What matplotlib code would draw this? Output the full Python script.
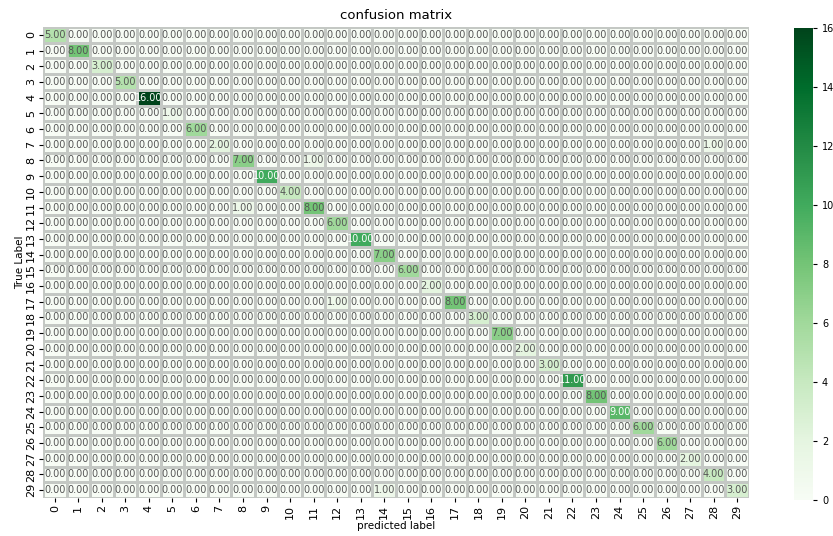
import numpy as np
import matplotlib
matplotlib.use("Agg")
import matplotlib.pyplot as plt
import seaborn as sns

labels = [str(i) for i in range(30)]
diag_values = [5, 8, 3, 5, 16, 1, 6, 2, 7, 10, 4, 8, 6, 10, 7, 6, 2, 8, 3, 7,
               2, 3, 11, 8, 9, 6, 6, 2, 4, 3]
# off-diagonal errors: (true row, predicted col, count)
off_rows = [7, 8, 11, 17, 29]
off_cols = [28, 11, 8, 12, 14]
off_vals = [1, 1, 1, 1, 1]

cm = np.zeros((30, 30))
for i, v in enumerate(diag_values):
    cm[i, i] = v
for r, c, v in zip(off_rows, off_cols, off_vals):
    cm[r, c] = v

fig = plt.figure(figsize=(8.33, 5.36), dpi=100)
W, H = 833, 536
ax = fig.add_axes([43 / W, 1 - 498 / H, (749 - 43) / W, (498 - 27) / H])
cax = fig.add_axes([794 / W, 1 - 500 / H, 19 / W, (500 - 28) / H])

sns.heatmap(cm, ax=ax, cbar_ax=cax, cmap="Greens", vmin=0, vmax=16,
            annot=True, fmt=".2f", annot_kws={"fontsize": 7},
            linewidths=0.8, linecolor="#c4c8c4",
            xticklabels=labels, yticklabels=labels)

for t in ax.texts:
    try:
        val = float(t.get_text())
    except ValueError:
        continue
    t.set_color("white" if val >= 9 else "#555555")

ax.set_title("confusion matrix", fontsize=9.5)
ax.set_xlabel("predicted label", fontsize=7.5, labelpad=1)
ax.set_ylabel("True Label", fontsize=7.5, labelpad=1)
ax.tick_params(axis="x", labelsize=8, rotation=90, length=3, pad=2)
ax.tick_params(axis="y", labelsize=8, rotation=90, length=3, pad=2)
for lab in ax.get_yticklabels():
    lab.set_va("center")
cax.tick_params(labelsize=7, length=3)
cax.set_yticks(range(0, 17, 2))

fig.savefig("out.png", dpi=100)
